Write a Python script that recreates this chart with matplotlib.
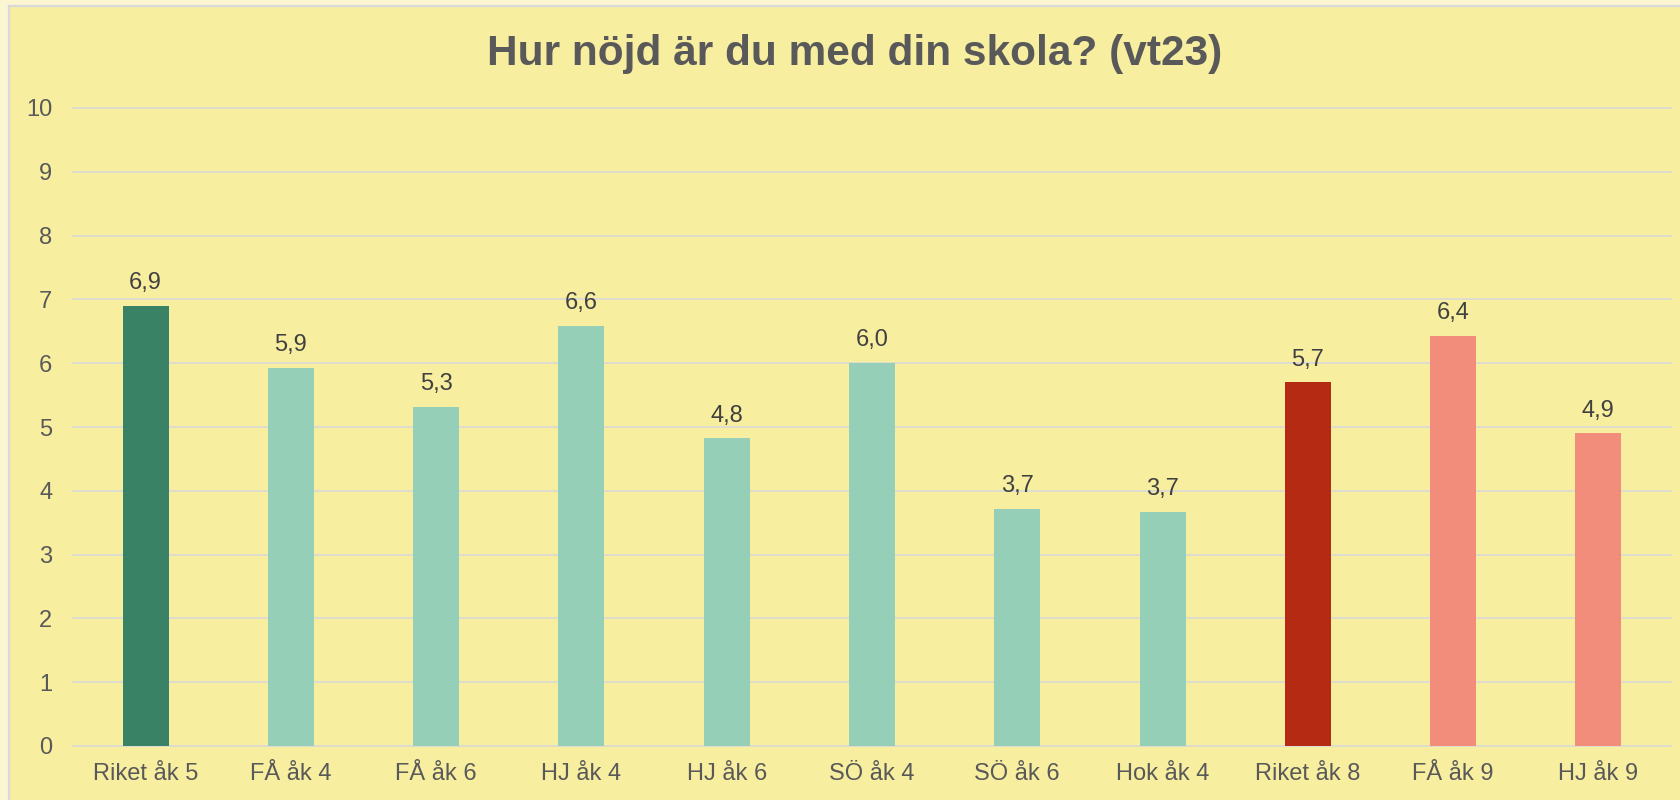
import matplotlib
matplotlib.use("Agg")
import matplotlib.pyplot as plt
from matplotlib.lines import Line2D
from matplotlib.patches import Rectangle

categories = ["Riket åk 5", "FÅ åk 4", "FÅ åk 6", "HJ åk 4", "HJ åk 6", "SÖ åk 4",
              "SÖ åk 6", "Hok åk 4", "Riket åk 8", "FÅ åk 9", "HJ åk 9"]
values = [6.9, 5.93, 5.32, 6.58, 4.82, 6.0, 3.72, 3.67, 5.7, 6.43, 4.9]
colors = ["#3A8266", "#96CFB7", "#96CFB7", "#96CFB7", "#96CFB7", "#96CFB7",
          "#96CFB7", "#96CFB7", "#B52A13", "#F28C7B", "#F28C7B"]
yticks = [0, 1, 2, 3, 4, 5, 6, 7, 8, 9, 10]
title = "Hur nöjd är du med din skola? (vt23)"

plt.rcParams['font.family'] = ['Liberation Sans', 'DejaVu Sans']

W, H = 1680, 800
bg = "#F8EEA0"
fig = plt.figure(figsize=(W / 100, H / 100), dpi=100, facecolor=bg)

# outer frame bands
fig.patches.append(Rectangle((0, 1 - 4.5 / H), 1, 4.5 / H, transform=fig.transFigure,
                             facecolor="#FCF5D2", edgecolor="none", zorder=0))
fig.patches.append(Rectangle((0, 0), 7.5 / W, 1, transform=fig.transFigure,
                             facecolor="#FCF5D2", edgecolor="none", zorder=0))
fig.lines.append(Line2D([8.5 / W, 1], [1 - 5.5 / H, 1 - 5.5 / H], transform=fig.transFigure,
                        color="#D9D9D9", lw=1.6))
fig.lines.append(Line2D([8.5 / W, 8.5 / W], [0, 1 - 5.5 / H], transform=fig.transFigure,
                        color="#D9D9D9", lw=1.6))

ax = fig.add_axes([73 / W, 54 / H, (1671 - 73) / W, (692 - 54) / H])
ax.set_facecolor(bg)
x = list(range(len(categories)))
ax.bar(x, values, width=0.317, color=colors, zorder=3)
ax.set_xlim(-0.5, len(categories) - 0.5)
ax.set_ylim(0, 10)
ax.set_yticks(yticks)
ax.set_xticks(x)
ax.set_xticklabels(categories)
ax.yaxis.grid(True, color="#D9D9D9", lw=1.2, zorder=0)
for gl in ax.get_ygridlines():
    gl.set_clip_on(False)
ax.set_axisbelow(True)
for s in ax.spines.values():
    s.set_visible(False)
ax.tick_params(axis="both", length=0, labelsize=17, colors="#595959")
ax.tick_params(axis="y", pad=15)
ax.tick_params(axis="x", pad=12)

for xi, v in zip(x, values):
    ax.annotate(f"{v:.1f}".replace(".", ","), (xi, v), xytext=(0, 8.5),
                textcoords="offset points", ha="center", va="bottom",
                fontsize=17, color="#404040")

fig.text(855 / W, 1 - 54 / H, title, ha="center", va="center", fontsize=30.5,
         fontweight="bold", color="#595959")

fig.savefig("out.png", dpi=100, facecolor=bg)
